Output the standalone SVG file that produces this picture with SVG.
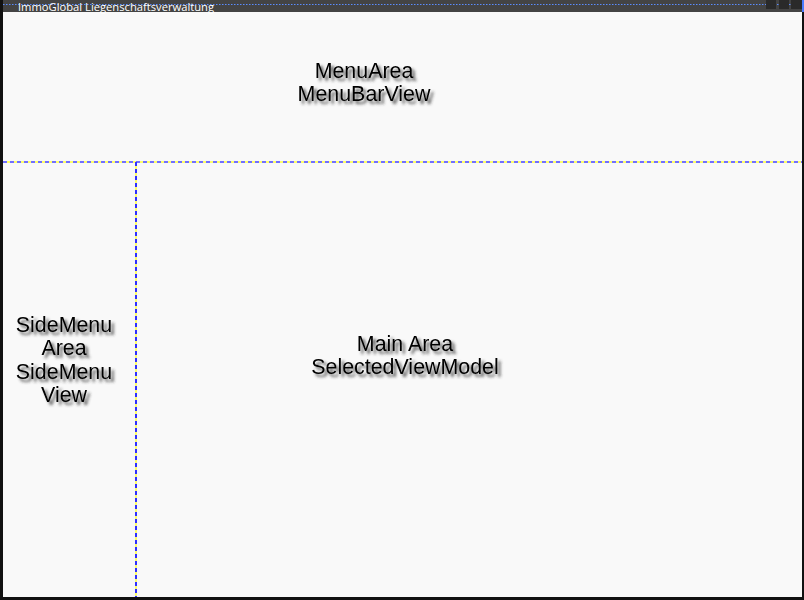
<svg xmlns="http://www.w3.org/2000/svg" width="804" height="600" viewBox="0 0 804 600">
<style>
.lbl{font-family:"Liberation Sans",Arial,sans-serif;font-size:21.4px;fill:#000;text-anchor:middle;filter:url(#sh)}
.ttl{font-family:"Open Sans","DejaVu Sans",sans-serif;font-size:11.2px;fill:#ffffff}
.dy{stroke:#ffff66;stroke-width:2;fill:none}
.db{stroke:#7070ff;stroke-width:2;fill:none;stroke-dasharray:4 3}
.dv{stroke:#3030ff;stroke-width:2;fill:none;stroke-dasharray:4 3}
</style>
<defs>
<filter id="sh" x="-20%" y="-40%" width="140%" height="180%">
<feDropShadow dx="3" dy="3" stdDeviation="1.4" flood-color="#333" flood-opacity="0.85"/>
</filter>
</defs>
<rect x="0" y="0" width="804" height="600" fill="#f9f9f9"/>
<g id="titlebar">
<rect x="0" y="0" width="804" height="12" fill="#444"/>
<line x1="3" y1="4.5" x2="802" y2="4.5" stroke="#5a8cff" stroke-width="1.2" stroke-dasharray="1.5 1.5"/>
<rect x="766" y="0" width="10" height="9" fill="#2a2a2a"/>
<rect x="779" y="0" width="10" height="9" fill="#2a2a2a"/>
<rect x="791" y="0" width="11" height="9" fill="#2a2a2a"/>
<rect x="802" y="0" width="2" height="12" fill="#4a7cff"/>
<text class="ttl" x="18" y="10.5">ImmoGlobal Liegenschaftsverwaltung</text>
</g>
<g id="frame">
<rect x="0" y="0" width="3" height="600" fill="#111"/>
<rect x="0" y="597" width="804" height="3" fill="#111"/>
<rect x="802" y="12" width="2" height="588" fill="#111"/>
</g>
<g id="connectors">
<line class="dy" x1="3" y1="162" x2="802" y2="162"/>
<line class="db" x1="3" y1="162" x2="802" y2="162"/>
<line class="dy" x1="136" y1="162" x2="136" y2="597"/>
<line class="dv" x1="136" y1="162" x2="136" y2="597"/>
</g>
<g id="menuarea">
<text class="lbl" x="364" y="78">MenuArea</text>
<text class="lbl" x="364" y="101">MenuBarView</text>
</g>
<g id="sidemenu">
<text class="lbl" x="64" y="332">SideMenu</text>
<text class="lbl" x="64" y="355">Area</text>
<text class="lbl" x="64" y="379">SideMenu</text>
<text class="lbl" x="64" y="402">View</text>
</g>
<g id="mainarea">
<text class="lbl" x="405" y="351">Main Area</text>
<text class="lbl" x="405" y="374">SelectedViewModel</text>
</g>
</svg>
